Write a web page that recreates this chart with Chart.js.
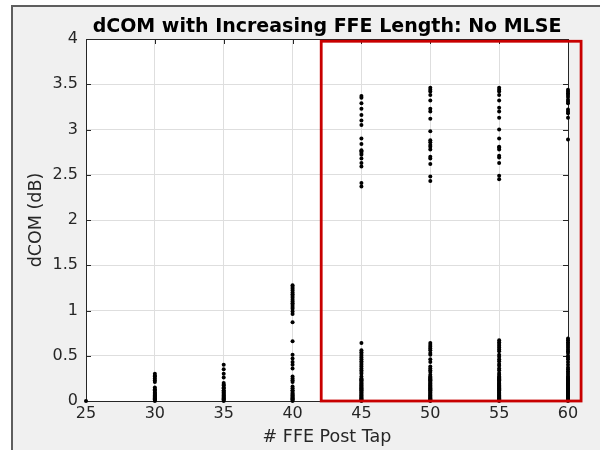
<!DOCTYPE html>
<html>
<head>
<meta charset="utf-8">
<script src="https://cdn.jsdelivr.net/npm/chart.js@4"></script>
<style>
  html, body { margin: 0; padding: 0; background: #fff; }
  #frame { position: absolute; left: 11px; top: 5px; width: 587px; height: 443px;
           border-left: 2px solid #5e5e5e; border-top: 2px solid #5e5e5e; background: #f0f0f0; }
  canvas { display: block; }
</style>
</head>
<body>
<div id="frame"><canvas id="scatterChart" width="587" height="443"></canvas></div>
<script>
  const chartTitle = 'dCOM with Increasing FFE Length: No MLSE';
  const xLabel = '# FFE Post Tap';
  const yLabel = 'dCOM (dB)';

  const ffeTaps = [25, 30, 35, 40, 45, 50, 55, 60];
  const xTicks = [25, 30, 35, 40, 45, 50, 55, 60];
  const yTicks = [0, 0.5, 1, 1.5, 2, 2.5, 3, 3.5, 4];

  // dCOM values per tap count
  const dcom25 = [0];
  const dcom30 = [0.30, 0.28, 0.27, 0.25, 0.23, 0.21, 0.15, 0.13, 0.12, 0.10, 0.09, 0.08, 0.07, 0.06, 0.05,
                  0.04, 0.03, 0.02, 0.01, 0];
  const dcom35 = [0.40, 0.35, 0.30, 0.26, 0.20, 0.18, 0.17, 0.15, 0.14, 0.12, 0.11, 0.10, 0.09, 0.08, 0.07,
                  0.06, 0.05, 0.04, 0.03, 0.02, 0.01, 0];
  const dcom40 = [1.28, 1.26, 1.24, 1.22, 1.20, 1.18, 1.16, 1.14, 1.12, 1.10, 1.08, 1.06, 1.04, 1.02, 0.99,
                  0.96, 0.87, 0.66, 0.51, 0.47, 0.43, 0.40, 0.36, 0.27, 0.25, 0.23, 0.21, 0.16, 0.14, 0.12,
                  0.11, 0.09, 0.08, 0.07, 0.06, 0.05, 0.04, 0.03, 0.02, 0.01, 0];
  const dcom45 = [3.37, 3.35, 3.29, 3.23, 3.16, 3.10, 3.05, 2.90, 2.84, 2.77, 2.76, 2.74, 2.72, 2.68, 2.63,
                  2.59, 2.41, 2.37,
                  0.64, 0.56, 0.54, 0.52, 0.50, 0.48, 0.46, 0.44, 0.42, 0.40, 0.38, 0.36, 0.34, 0.32, 0.30,
                  0.27, 0.25, 0.24, 0.23, 0.22, 0.21, 0.20, 0.19, 0.18, 0.17, 0.16, 0.15, 0.14, 0.13, 0.12,
                  0.11, 0.10, 0.09, 0.08, 0.07, 0.06, 0.05, 0.04, 0.03, 0.02, 0.01, 0];
  const dcom50 = [3.46, 3.44, 3.42, 3.38, 3.32, 3.23, 3.20, 3.12, 2.98, 2.88, 2.86, 2.83, 2.81, 2.78, 2.70,
                  2.68, 2.62, 2.48, 2.43,
                  0.64, 0.62, 0.60, 0.58, 0.56, 0.53, 0.51, 0.46, 0.43, 0.38, 0.36, 0.34, 0.32, 0.29, 0.27,
                  0.26, 0.25, 0.24, 0.23, 0.22, 0.21, 0.20, 0.19, 0.18, 0.17, 0.16, 0.15, 0.14, 0.13, 0.12,
                  0.11, 0.10, 0.09, 0.08, 0.07, 0.06, 0.05, 0.04, 0.03, 0.02, 0.01, 0];
  const dcom55 = [3.46, 3.44, 3.42, 3.38, 3.32, 3.24, 3.20, 3.13, 3.00, 2.90, 2.81, 2.80, 2.78, 2.71, 2.69,
                  2.63, 2.49, 2.45,
                  0.67, 0.65, 0.63, 0.61, 0.59, 0.57, 0.55, 0.51, 0.49, 0.46, 0.44, 0.41, 0.39, 0.36, 0.34,
                  0.31, 0.29, 0.27, 0.26, 0.25, 0.24, 0.23, 0.22, 0.21, 0.20, 0.19, 0.18, 0.17, 0.16, 0.15,
                  0.14, 0.13, 0.12, 0.11, 0.10, 0.09, 0.08, 0.07, 0.06, 0.05, 0.04, 0.03, 0.02, 0.01, 0];
  const dcom60 = [3.44, 3.42, 3.40, 3.38, 3.36, 3.33, 3.31, 3.29, 3.22, 3.20, 3.18, 3.13, 2.89,
                  0.69, 0.67, 0.65, 0.63, 0.61, 0.59, 0.57, 0.55, 0.53, 0.50, 0.48, 0.46, 0.43, 0.40, 0.37,
                  0.35, 0.33, 0.31, 0.29, 0.27, 0.26, 0.25, 0.24, 0.23, 0.22, 0.21, 0.20, 0.19, 0.18, 0.17,
                  0.16, 0.15, 0.14, 0.13, 0.12, 0.11, 0.10, 0.09, 0.08, 0.07, 0.06, 0.05, 0.04, 0.03, 0.02,
                  0.01, 0];
  const dcomByTap = [dcom25, dcom30, dcom35, dcom40, dcom45, dcom50, dcom55, dcom60];

  // highlighted region (data coordinates)
  const boxX = [42.08, 60.95];
  const boxY = [0, 3.975];

  const points = [];
  ffeTaps.forEach((tap, i) => dcomByTap[i].forEach(v => points.push({ x: tap, y: v })));

  Chart.defaults.font.family = "'DejaVu Sans', sans-serif";

  const matlabAxes = {
    id: 'matlabAxes',
    beforeDraw(chart) {
      const { ctx, chartArea: a } = chart;
      ctx.save();
      ctx.fillStyle = '#ffffff';
      ctx.fillRect(a.left, a.top, a.right - a.left, a.bottom - a.top);
      ctx.restore();
    },
    beforeDatasetsDraw(chart) {
      const { ctx, chartArea: a, scales } = chart;
      ctx.save();
      ctx.strokeStyle = '#262626';
      ctx.lineWidth = 1;
      ctx.beginPath();
      scales.x.ticks.forEach(t => {
        const px = Math.round(scales.x.getPixelForValue(t.value)) + 0.5;
        ctx.moveTo(px, a.bottom); ctx.lineTo(px, a.bottom - 5);
        ctx.moveTo(px, a.top); ctx.lineTo(px, a.top + 5);
      });
      scales.y.ticks.forEach(t => {
        const py = Math.round(scales.y.getPixelForValue(t.value)) + 0.5;
        ctx.moveTo(a.left, py); ctx.lineTo(a.left + 5, py);
        ctx.moveTo(a.right, py); ctx.lineTo(a.right - 5, py);
      });
      ctx.stroke();
      ctx.strokeRect(Math.round(a.left) + 0.5, Math.round(a.top) + 0.5,
                     Math.round(a.right - a.left), Math.round(a.bottom - a.top));
      ctx.restore();
    },
    afterDraw(chart) {
      const { ctx, chartArea: a, scales } = chart;
      ctx.save();
      ctx.strokeStyle = '#c80000';
      ctx.lineWidth = 2.8;
      const x0 = scales.x.getPixelForValue(boxX[0]);
      const x1 = scales.x.getPixelForValue(boxX[1]);
      const y0 = scales.y.getPixelForValue(boxY[1]);
      const y1 = scales.y.getPixelForValue(boxY[0]);
      ctx.strokeRect(x0, y0, x1 - x0, y1 - y0);
      ctx.fillStyle = '#000000';
      ctx.font = "bold 19px 'DejaVu Sans'";
      ctx.textAlign = 'center';
      ctx.textBaseline = 'alphabetic';
      ctx.fillText(chartTitle, (a.left + a.right) / 2, 25);
      ctx.restore();
    }
  };

  new Chart(document.getElementById('scatterChart'), {
    type: 'scatter',
    data: {
      datasets: [{
        data: points,
        backgroundColor: '#000000',
        pointRadius: 2,
        pointBorderWidth: 0,
        pointHoverRadius: 2,
        clip: false
      }]
    },
    options: {
      responsive: false,
      animation: false,
      layout: { padding: { top: 32, right: 32, left: 0, bottom: 0 } },
      plugins: { legend: { display: false }, tooltip: { enabled: false } },
      scales: {
        x: {
          type: 'linear', min: 25, max: 60,
          afterFit(s) { s.height = 49; },
          afterBuildTicks(s) { s.ticks = xTicks.map(v => ({ value: v })); },
          ticks: { color: '#262626', font: { size: 16 }, padding: 3, maxRotation: 0,
                   callback: v => String(v) },
          grid: { color: '#dedede', drawTicks: false },
          border: { display: false },
          title: { display: true, text: xLabel, color: '#262626', font: { size: 17.5 },
                   padding: { top: 0, bottom: 2 } }
        },
        y: {
          type: 'linear', min: 0, max: 4,
          afterFit(s) { s.width = 73; },
          afterBuildTicks(s) { s.ticks = yTicks.map(v => ({ value: v })); },
          ticks: { color: '#262626', font: { size: 16 }, padding: 8, callback: v => String(v) },
          grid: { color: '#dedede', drawTicks: false },
          border: { display: false },
          title: { display: true, text: yLabel, color: '#262626', font: { size: 17.5 },
                   padding: { top: 13, bottom: 0 } }
        }
      }
    },
    plugins: [matlabAxes]
  });
</script>
</body>
</html>
